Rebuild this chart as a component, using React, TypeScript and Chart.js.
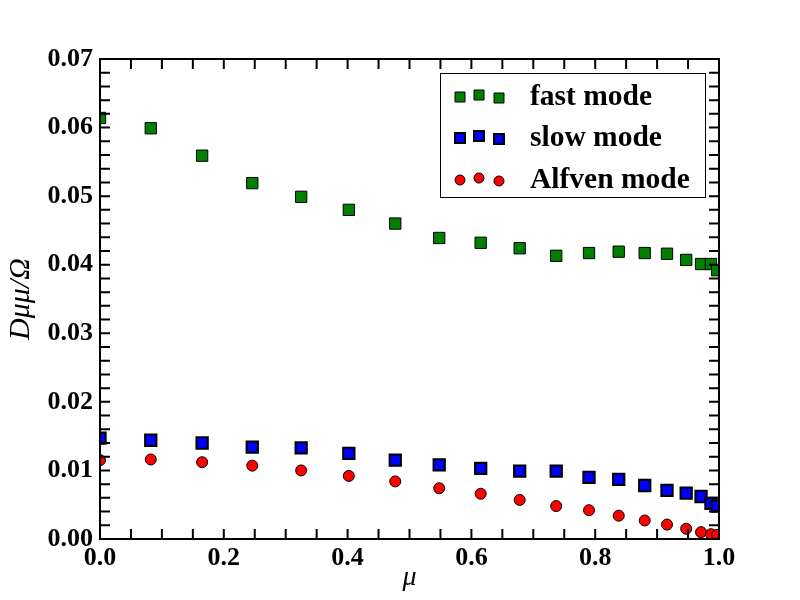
import React, { useEffect, useRef } from "react";
import { Chart, registerables } from "chart.js";

Chart.register(...registerables);

// pitch-angle cosine samples
const mu = [
  0, 0.082, 0.165, 0.246, 0.325, 0.402, 0.477, 0.548, 0.615, 0.678,
  0.737, 0.79, 0.838, 0.88, 0.916, 0.947, 0.971, 0.987, 0.997,
];
const fastMode = [
  0.0614, 0.0599, 0.0559, 0.0519, 0.0499, 0.048, 0.046, 0.0439, 0.0432, 0.0424,
  0.0413, 0.0417, 0.0419, 0.0417, 0.0416, 0.0407, 0.0401, 0.0401, 0.0392,
];
const slowMode = [
  0.0147, 0.0144, 0.014, 0.0134, 0.0133, 0.0125, 0.0115, 0.0108, 0.0103, 0.0099,
  0.0099, 0.009, 0.0087, 0.0078, 0.0071, 0.0067, 0.0062, 0.0052, 0.0048,
];
const alfvenMode = [
  0.0115, 0.0116, 0.0112, 0.0107, 0.01, 0.0092, 0.0084, 0.0074, 0.0066, 0.0057,
  0.0048, 0.0042, 0.0034, 0.0027, 0.0021, 0.0015, 0.001, 0.0007, 0.0006,
];
const seriesLabels = ["fast mode", "slow mode", "Alfven mode"];

const serif = "'Liberation Serif', 'Times New Roman', serif";

const toPoints = (ys: number[]) => mu.map((x, i) => ({ x, y: ys[i] }));

// inward ticks on all four sides plus the frame
const frameTicks = {
  id: "frameTicks",
  afterDatasetsDraw(chart: any) {
    const { ctx, chartArea: a, scales } = chart;
    const xs = scales.x;
    const ys = scales.y;
    const len = 10;
    ctx.save();
    ctx.strokeStyle = "#000";
    ctx.lineWidth = 2;
    ctx.beginPath();
    for (let i = 0; i <= 20; i++) {
      const px = xs.getPixelForValue(i * 0.05);
      ctx.moveTo(px, a.bottom);
      ctx.lineTo(px, a.bottom - len);
      ctx.moveTo(px, a.top);
      ctx.lineTo(px, a.top + len);
    }
    for (let i = 0; i <= 35; i++) {
      const py = ys.getPixelForValue(i * 0.002);
      ctx.moveTo(a.left, py);
      ctx.lineTo(a.left + len, py);
      ctx.moveTo(a.right, py);
      ctx.lineTo(a.right - len, py);
    }
    ctx.stroke();
    ctx.strokeRect(a.left, a.top, a.right - a.left, a.bottom - a.top);
    ctx.restore();
  },
};

const boxLegend = {
  id: "boxLegend",
  afterDraw(chart: any) {
    const { ctx, chartArea: a } = chart;
    const w = 265;
    const h = 124;
    const left = a.right - 14 - w;
    const top = a.top + 14;
    ctx.save();
    ctx.fillStyle = "#fff";
    ctx.fillRect(left, top, w, h);
    ctx.strokeStyle = "#000";
    ctx.lineWidth = 1;
    ctx.strokeRect(left + 0.5, top + 0.5, w, h);
    const rows = [24, 65, 107];
    const dx = [20, 39, 59];
    const jitter = [0, -2, 1];
    chart.data.datasets.forEach((ds: any, k: number) => {
      const cy = top + rows[k];
      ctx.fillStyle = ds.backgroundColor;
      ctx.strokeStyle = "#000";
      ctx.lineWidth = ds.borderWidth;
      dx.forEach((ox, j) => {
        const x = left + ox;
        const y = cy + jitter[j];
        ctx.beginPath();
        if (ds.pointStyle === "circle") {
          ctx.arc(x, y, 5, 0, Math.PI * 2);
        } else {
          ctx.rect(x - 5, y - 5, 10, 10);
        }
        ctx.fill();
        ctx.stroke();
      });
      ctx.fillStyle = "#000";
      ctx.font = `bold 29.5px ${serif}`;
      ctx.textBaseline = "middle";
      ctx.textAlign = "left";
      ctx.fillText(ds.label, left + 90, cy);
    });
    ctx.restore();
  },
};

const App: React.FC = () => {
  const canvasRef = useRef<HTMLCanvasElement | null>(null);
  const chartRef = useRef<Chart | null>(null);

  useEffect(() => {
    document.body.style.margin = "0";
    const ctx = canvasRef.current?.getContext("2d");
    if (!ctx) return;
    if (chartRef.current) chartRef.current.destroy();

    const tickFont = { family: serif, size: 26, weight: "bold" as const };

    chartRef.current = new Chart(ctx, {
      type: "scatter",
      data: {
        datasets: [
          {
            label: seriesLabels[0],
            data: toPoints(fastMode),
            pointStyle: "rect",
            pointRadius: 8,
            backgroundColor: "#008000",
            borderColor: "#000",
            borderWidth: 1,
            clip: 0,
          },
          {
            label: seriesLabels[1],
            data: toPoints(slowMode),
            pointStyle: "rect",
            pointRadius: 8,
            backgroundColor: "#0000ff",
            borderColor: "#000",
            borderWidth: 2,
            clip: 0,
          },
          {
            label: seriesLabels[2],
            data: toPoints(alfvenMode),
            pointStyle: "circle",
            pointRadius: 5.5,
            backgroundColor: "#ff0000",
            borderColor: "#000",
            borderWidth: 1,
            clip: 0,
          },
        ],
      },
      options: {
        animation: false,
        responsive: true,
        maintainAspectRatio: false,
        layout: { padding: { top: 59, right: 81, left: 0, bottom: 0 } },
        plugins: {
          legend: { display: false },
          tooltip: { enabled: false },
        },
        elements: { point: { hoverRadius: 8 } },
        scales: {
          x: {
            type: "linear",
            min: 0,
            max: 1,
            grid: { display: false, drawTicks: false },
            border: { display: false },
            ticks: {
              stepSize: 0.2,
              padding: 4,
              color: "#000",
              font: tickFont,
              callback: (v: any) => Number(v).toFixed(1),
            },
            title: {
              display: true,
              text: "μ",
              color: "#000",
              font: { family: serif, size: 28, style: "italic" },
              padding: { top: 0, bottom: 6 },
            },
            afterFit: (s: any) => {
              s.height = 61;
            },
          },
          y: {
            type: "linear",
            min: 0,
            max: 0.07,
            grid: { display: false, drawTicks: false },
            border: { display: false },
            ticks: {
              stepSize: 0.01,
              padding: 7,
              color: "#000",
              font: tickFont,
              callback: (v: any) => Number(v).toFixed(2),
            },
            title: {
              display: true,
              text: "Dμμ/Ω",
              color: "#000",
              font: { family: serif, size: 30, style: "italic" },
              padding: { top: 3, bottom: 0 },
            },
            afterFit: (s: any) => {
              s.width = 100;
            },
          },
        },
      },
      plugins: [frameTicks, boxLegend],
    });

    return () => {
      if (chartRef.current) {
        chartRef.current.destroy();
        chartRef.current = null;
      }
    };
  }, []);

  return (
    <div style={{ width: 800, height: 600, position: "relative", background: "#fff" }}>
      <canvas ref={canvasRef}></canvas>
    </div>
  );
};

export default App;
